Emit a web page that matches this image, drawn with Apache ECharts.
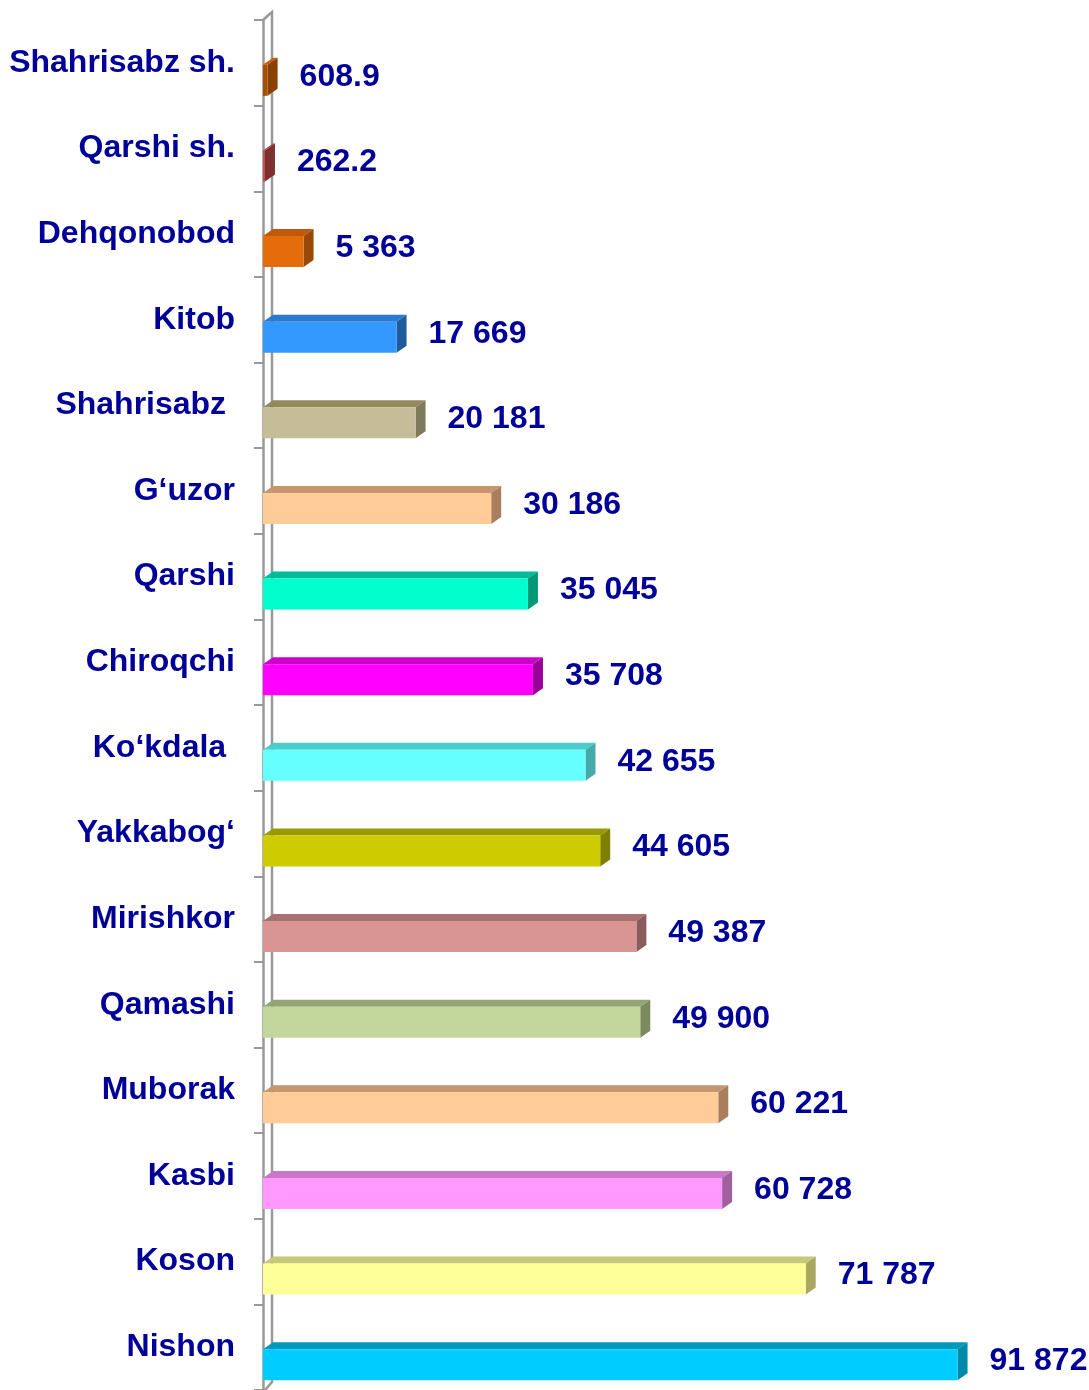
<!DOCTYPE html>
<html>
<head>
<meta charset="utf-8">
<script src="https://cdn.jsdelivr.net/npm/echarts@6/dist/echarts.min.js"></script>
<style>
html,body{margin:0;padding:0;background:#fff;}
#chart{width:1089px;height:1390px;}
</style>
</head>
<body>
<div id="chart"></div>
<script>
const categories = ['Shahrisabz sh.', 'Qarshi sh.', 'Dehqonobod', 'Kitob', 'Shahrisabz ', 'G‘uzor', 'Qarshi', 'Chiroqchi', 'Ko‘kdala ', 'Yakkabog‘', 'Mirishkor', 'Qamashi', 'Muborak', 'Kasbi', 'Koson', 'Nishon'];
const values = [608.9, 262.2, 5363, 17669, 20181, 30186, 35045, 35708, 42655, 44605, 49387, 49900, 60221, 60728, 71787, 91872];
const frontColors = ['#A84E00', '#C0504D', '#E46C0A', '#3399FF', '#C4BD97', '#FFCC99', '#00FFCC', '#FF00FF', '#66FFFF', '#CCCC00', '#D99594', '#C3D69B', '#FFCC99', '#FF99FF', '#FFFF99', '#00CCFF'];
const topColors   = ['#C25E0A', '#A84442', '#C0590A', '#2B7ACB', '#948A5C', '#C8966C', '#00BB99', '#CC00CC', '#4DCCCC', '#999900', '#A87070', '#94A474', '#C8966C', '#C878C8', '#C8C878', '#0099BB'];
const sideColors  = ['#8A4000', '#7F3030', '#984807', '#1F5C9C', '#7F7A5E', '#A87E5C', '#009977', '#990099', '#44AAAA', '#808000', '#8C5C5C', '#7A8A5E', '#A87E5C', '#A060A0', '#A8A860', '#0088AA'];

function fmt(v) {
  if (v < 1000) return v.toFixed(1);
  const s = String(Math.round(v));
  return s.replace(/\B(?=(\d{3})+(?!\d))/g, ' ');
}

const TXT = '#000099';
const FONT = 'bold 32px "Liberation Sans", Arial, sans-serif';
const DX = 10, DY = 7, H = 31;

const chart = echarts.init(document.getElementById('chart'), null, {renderer: 'canvas'});

const barData = values.map((v, i) => [v, i]);

chart.setOption({
  animation: false,
  backgroundColor: '#ffffff',
  grid: {left: 263, top: 20, width: 756, height: 1374, containLabel: false},
  xAxis: {
    type: 'value', min: 0, max: 100000, show: false
  },
  yAxis: {
    type: 'category', data: categories, inverse: true,
    axisLine: {show: true, lineStyle: {color: '#999999', width: 2.5}},
    axisTick: {show: true, length: 9, lineStyle: {color: '#999999', width: 2}},
    axisLabel: {
      margin: 28, color: TXT, fontSize: 32, fontWeight: 'bold',
      fontFamily: '"Liberation Sans", Arial, sans-serif',
      padding: [6, 0, 0, 0]
    },
    splitLine: {show: false}
  },
  series: [
    {
      type: 'custom',
      z: 1,
      data: [[0, 0]],
      encode: {x: 0, y: 1},
      renderItem: function (params, api) {
        const cs = params.coordSys;
        const x = cs.x, y = cs.y, h = cs.height;
        return {
          type: 'polyline',
          shape: {points: [[x, y], [x + 9, y - 8], [x + 9, y + h - 8], [x + 2, y + h]]},
          style: {stroke: '#999999', lineWidth: 2.5, fill: null}
        };
      }
    },
    {
      type: 'custom',
      z: 3,
      data: barData,
      encode: {x: 0, y: 1},
      clip: false,
      renderItem: function (params, api) {
        const v = api.value(0);
        const c = api.value(1);
        const p0 = api.coord([0, c]);
        const p1 = api.coord([v, c]);
        const x0 = p0[0], x1 = p1[0], yc = p0[1];
        const yt = yc + 2, yb = yt + H;
        const i = params.dataIndex;
        return {
          type: 'group',
          children: [
            {
              type: 'polygon',
              shape: {points: [[x0, yt], [x0 + DX, yt - DY], [x1 + DX, yt - DY], [x1, yt]]},
              style: {fill: topColors[i], stroke: null}
            },
            {
              type: 'polygon',
              shape: {points: [[x1, yt], [x1 + DX, yt - DY], [x1 + DX, yb - DY], [x1, yb]]},
              style: {fill: sideColors[i], stroke: null}
            },
            {
              type: 'rect',
              shape: {x: x0, y: yt, width: Math.max(x1 - x0, 0.5), height: H},
              style: {fill: frontColors[i], stroke: null}
            },
            {
              type: 'text',
              style: {
                text: fmt(v), x: x1 + 32, y: yc + 14,
                fill: TXT, font: FONT, align: 'left', verticalAlign: 'middle'
              }
            }
          ]
        };
      }
    }
  ]
});
</script>
</body>
</html>
